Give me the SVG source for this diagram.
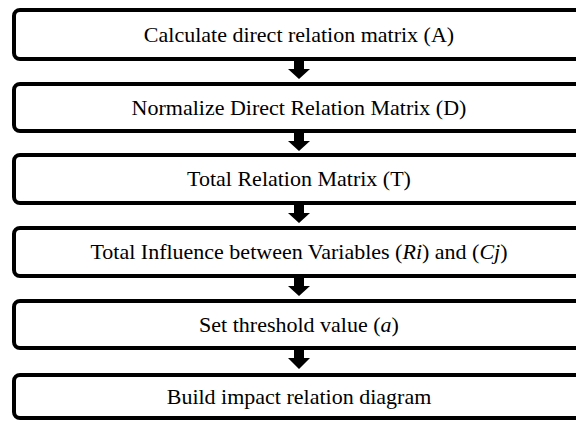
<svg xmlns="http://www.w3.org/2000/svg" width="576" height="423" viewBox="0 0 576 423">
  <style>
    .box { fill: #ffffff; stroke: #000000; stroke-width: 4; }
    .label { font-family: "Liberation Serif", "Times New Roman", serif; font-size: 22px; fill: #000000; text-anchor: middle; }
    .it { font-style: italic; }
    .arrow { fill: #000000; stroke: none; }
  </style>
  <rect width="576" height="423" fill="#ffffff"/>

  <g id="step1">
    <rect class="box" x="14" y="10" width="570" height="49" rx="6"/>
    <text class="label" x="299" y="42">Calculate direct relation matrix (A)</text>
  </g>
  <g id="step2">
    <rect class="box" x="14" y="84" width="570" height="47" rx="6"/>
    <text class="label" x="299" y="115">Normalize Direct Relation Matrix (D)</text>
  </g>
  <g id="step3">
    <rect class="box" x="14" y="155" width="570" height="48" rx="6"/>
    <text class="label" x="299" y="186">Total Relation Matrix (T)</text>
  </g>
  <g id="step4">
    <rect class="box" x="14" y="228" width="570" height="48" rx="6"/>
    <text class="label" x="299" y="259">Total Influence between Variables (<tspan class="it">Ri</tspan>) and (<tspan class="it">Cj</tspan>)</text>
  </g>
  <g id="step5">
    <rect class="box" x="14" y="301" width="570" height="47" rx="6"/>
    <text class="label" x="299" y="332">Set threshold value (<tspan class="it">a</tspan>)</text>
  </g>
  <g id="step6">
    <rect class="box" x="14" y="375" width="570" height="43" rx="6"/>
    <text class="label" x="299" y="404">Build impact relation diagram</text>
  </g>

  <g id="connectors">
    <polygon class="arrow" points="294,61 304,61 304,69 310,69 299,79 288,69 294,69"/>
    <polygon class="arrow" points="294,133 304,133 304,141 310,141 299,151 288,141 294,141"/>
    <polygon class="arrow" points="294,205 304,205 304,213 310,213 299,223 288,213 294,213"/>
    <polygon class="arrow" points="294,278 304,278 304,286 310,286 299,296 288,286 294,286"/>
    <polygon class="arrow" points="294,350 304,350 304,358 310,358 299,369 288,358 294,358"/>
  </g>
</svg>
